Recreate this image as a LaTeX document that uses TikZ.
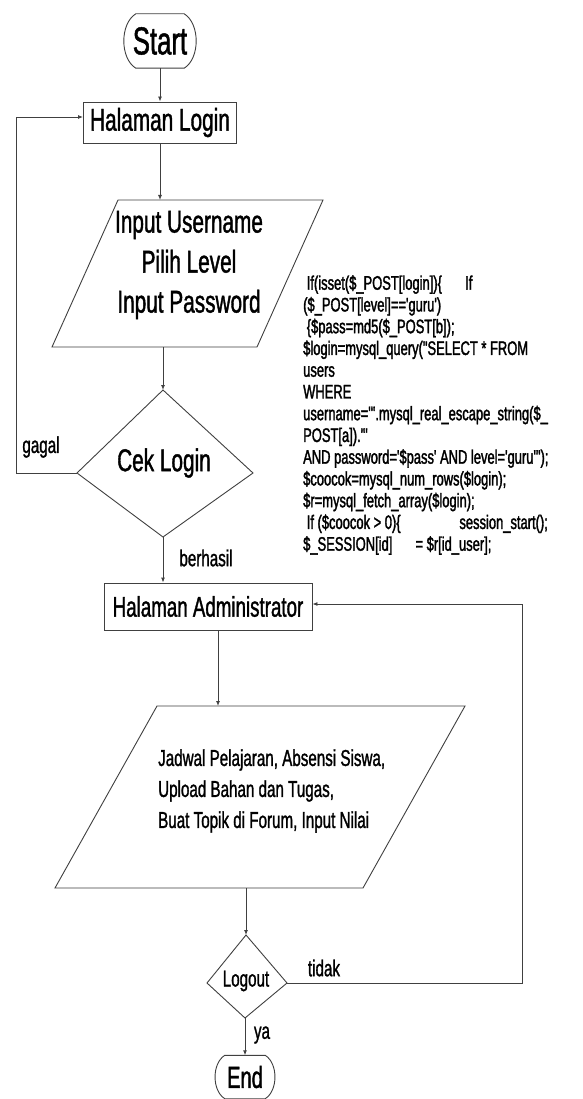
\documentclass[tikz,border=0pt]{standalone}
\usepackage{fontspec}
\setmainfont[FakeStretch=0.66,FakeBold=1.2]{Liberation Sans}
\newfontfamily\codefont[FakeStretch=0.66,FakeBold=1.6]{Liberation Sans}
\usetikzlibrary{arrows.meta,calc}
\begin{document}
\begin{tikzpicture}[x=1pt,y=-1pt,
  line/.style={draw=black!75, line width=0.9pt},
  arr/.style={line, -{Latex[length=5pt,width=4pt]}},
  txt/.style={inner sep=0pt, text=black, align=center},
  bigtxt/.style={txt, font=\fontsize{31.5}{40}\selectfont},
  lbl/.style={txt, font=\fontsize{23}{26}\selectfont},
  boxnode/.style={line, inner sep=0pt, text=black, align=center}]
\fill[white] (0,0) rectangle (582,1099);
\useasboundingbox (0,0) rectangle (582,1099);

% Start
\node[txt, minimum width=72, minimum height=54, font=\fontsize{39}{42}\selectfont] (start) at (160,41) {Start};
\draw[line] ($(start.north west)+(12,0)$) -- ($(start.north east)+(-12,0)$)
  .. controls ($(start.north east)+(4,10)$) and ($(start.south east)+(4,-10)$) .. ($(start.south east)+(-12,0)$)
  -- ($(start.south west)+(12,0)$)
  .. controls ($(start.south west)+(-4,-10)$) and ($(start.north west)+(-4,10)$) .. ($(start.north west)+(12,0)$);

% Halaman Login
\node[boxnode, minimum width=153, minimum height=41, font=\fontsize{31.5}{34}\selectfont] (login) at (160,122.5) {Halaman Login};

% Parallelogram 1
\coordinate (p1tl) at (118,200);
\coordinate (p1tr) at (323,200);
\coordinate (p1br) at (257,347);
\coordinate (p1bl) at (52,347);
\draw[line] (p1tl) -- (p1tr) -- (p1br) -- (p1bl) -- cycle;
\node[bigtxt] (p1) at (189,265) {Input Username\\Pilih Level\\Input Password};
\coordinate (p1in) at (160,200);
\coordinate (p1out) at (163,347);

% Cek Login diamond
\coordinate (cekT) at (163,390);
\coordinate (cekR) at (253,473);
\coordinate (cekB) at (163,537);
\coordinate (cekL) at (77,473);
\draw[line] (cekT) -- (cekR) -- (cekB) -- (cekL) -- cycle;
\node[bigtxt] (cek) at (164,463) {Cek Login};

% Halaman Administrator
\node[boxnode, minimum width=208, minimum height=47, font=\fontsize{28.4}{31}\selectfont] (admin) at (208,606.5) {Halaman Administrator};

% Parallelogram 2
\coordinate (p2tl) at (157,706);
\coordinate (p2tr) at (465,706);
\coordinate (p2br) at (363,888);
\coordinate (p2bl) at (55,888);
\draw[line] (p2tl) -- (p2tr) -- (p2br) -- (p2bl) -- cycle;
\node[txt, anchor=west, align=left, font=\fontsize{23}{31}\selectfont] (p2) at (158,791) {Jadwal Pelajaran, Absensi Siswa,\\Upload Bahan dan Tugas,\\Buat Topik di Forum, Input Nilai};
\coordinate (p2in) at (218,706);
\coordinate (p2out) at (246,888);

% Logout diamond
\coordinate (loT) at (246,935);
\coordinate (loR) at (287,983);
\coordinate (loB) at (245,1018);
\coordinate (loL) at (207,983);
\draw[line] (loT) -- (loR) -- (loB) -- (loL) -- cycle;
\node[lbl] (logout) at (246,981) {Logout};

% End
\node[txt, minimum width=60, minimum height=43, font=\fontsize{30.5}{33}\selectfont] (end) at (245,1077) {End};
\draw[line] ($(end.north west)+(10,0)$) -- ($(end.north east)+(-10,0)$)
  .. controls ($(end.north east)+(3,8)$) and ($(end.south east)+(3,-8)$) .. ($(end.south east)+(-10,0)$)
  -- ($(end.south west)+(10,0)$)
  .. controls ($(end.south west)+(-3,-8)$) and ($(end.north west)+(-3,8)$) .. ($(end.north west)+(10,0)$);

% Code text
\node[txt, anchor=north west, align=left, font=\codefont\fontsize{19.6}{21.75}\selectfont] (code) at (303,275) {%
\ If(isset(\$\_POST[login])\{\quad\ If\\
(\$\_POST[level]=='guru')\\
\ \{\$pass=md5(\$\_POST[b]);\\
\$login=mysql\_query("SELECT * FROM\\
users\\
WHERE\\
username='".mysql\_real\_escape\_string(\$\_\\
POST[a])."'\\
AND password='\$pass' AND level='guru'");\\
\$coocok=mysql\_num\_rows(\$login);\\
\$r=mysql\_fetch\_array(\$login);\\
\ If (\$coocok > 0)\{\qquad\quad session\_start();\\
\$\_SESSION[id]\quad\ = \$r[id\_user];};

% Labels
\node[lbl] (gagal) at (41,447) {gagal};
\node[lbl] (berhasil) at (206,558) {berhasil};
\node[lbl] (tidak) at (324,968) {tidak};
\node[lbl] (ya) at (262,1035) {ya};

% Connectors
\draw[arr] (start.south) -- (login.north);
\draw[arr] (login.south) -- (p1in);
\draw[arr] (p1out) -- (cekT);
\coordinate (gagalA) at (16,473);
\coordinate (gagalB) at (16,117);
\draw[arr] (cekL) -- (gagalA) -- (gagalB) -- (gagalB -| login.west);
\draw[arr] (cekB) -- (cekB |- admin.north);
\draw[arr] (admin.south -| p2in) -- (p2in);
\draw[arr] (p2out) -- (loT);
\coordinate (tidakA) at (522,983);
\coordinate (tidakB) at (522,604);
\draw[arr] (loR) -- (tidakA) -- (tidakB) -- (tidakB -| admin.east);
\draw[arr] (loB) -- (loB |- end.north);
\end{tikzpicture}
\end{document}
